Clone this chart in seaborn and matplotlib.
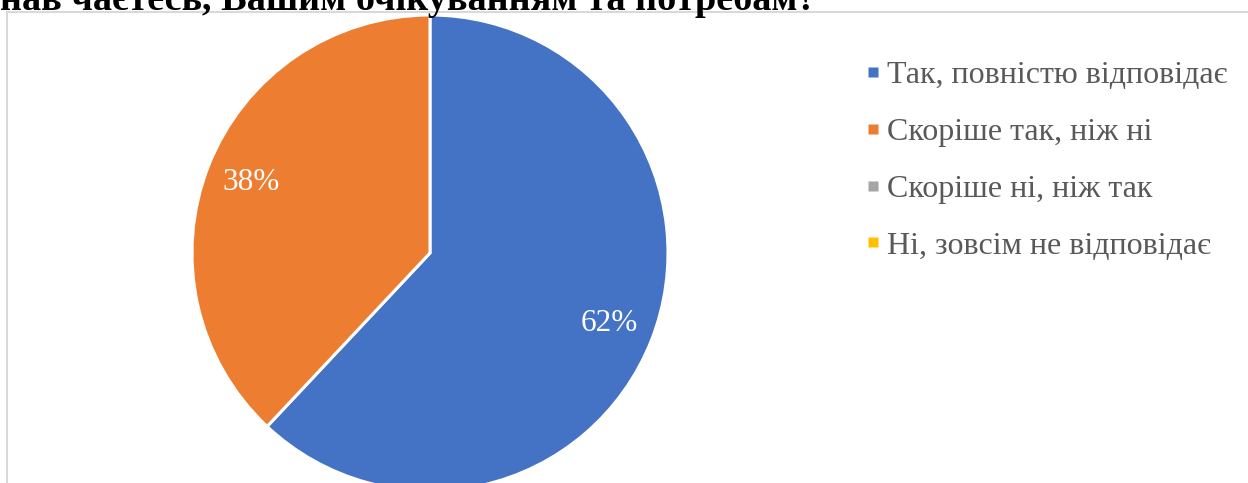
import matplotlib
matplotlib.use("Agg")
import matplotlib.pyplot as plt
from matplotlib.patches import Rectangle
from matplotlib.lines import Line2D
import seaborn as sns

categories = ["Так, повністю відповідає", "Скоріше так, ніж ні",
              "Скоріше ні, ніж так", "Ні, зовсім не відповідає"]
values = [62, 38, 0, 0]
colors = ["#4472C4", "#ED7D31", "#A5A5A5", "#FFC000"]
title_text = "нав чаєтесь, Вашим очікуванням та потребам?"

sns.set_theme(style="white")
plt.rcParams['font.family'] = ['Liberation Serif', 'DejaVu Serif']

W, H = 1248, 483
fig = plt.figure(figsize=(W / 100, H / 100), dpi=100)

# chart border (light grey), extends beyond right/bottom edges
fig.patches.append(Rectangle((6.5 / W, -0.1), 1.2, 1.1 - 12.5 / H,
                             transform=fig.transFigure, fill=False,
                             edgecolor="#D9D9D9", linewidth=1.5))

# title partially cut off at the top (as in the reference)
fig.text(0.0, 1 - 10 / H, title_text, fontsize=27.5, fontweight="bold",
         color="black", ha="left", va="baseline")

cx, cy, r = 430, 253, 238
ax = fig.add_axes([(cx - r) / W, (H - cy - r) / H, 2 * r / W, 2 * r / H])
nz = [(v, c) for v, c in zip(values, colors) if v > 0]
wedges, texts, autotexts = ax.pie(
    [v for v, _ in nz], colors=[c for _, c in nz], startangle=90,
    counterclock=False, radius=1,
    autopct=lambda p: f"{p:.0f}%", pctdistance=0.81,
    wedgeprops=dict(edgecolor="white", linewidth=2.2),
    textprops=dict(color="white", fontsize=22.5))
for w in wedges:
    w.set_clip_on(False)
ax.set_xlim(-1, 1)
ax.set_ylim(-1, 1)
ax.set_aspect("equal")
ax.axis("off")

handles = [Line2D([], [], linestyle="none", marker="s", markersize=7.2,
                  markerfacecolor=c, markeredgecolor="none") for c in colors]
leg = fig.legend(handles, categories, loc="upper left",
                 bbox_to_anchor=(839 / W, 1 - 32 / H), frameon=False,
                 fontsize=23, handlelength=0.3, handletextpad=0.3,
                 labelspacing=0.86, labelcolor="#595959")

fig.savefig("out.png", dpi=100)
